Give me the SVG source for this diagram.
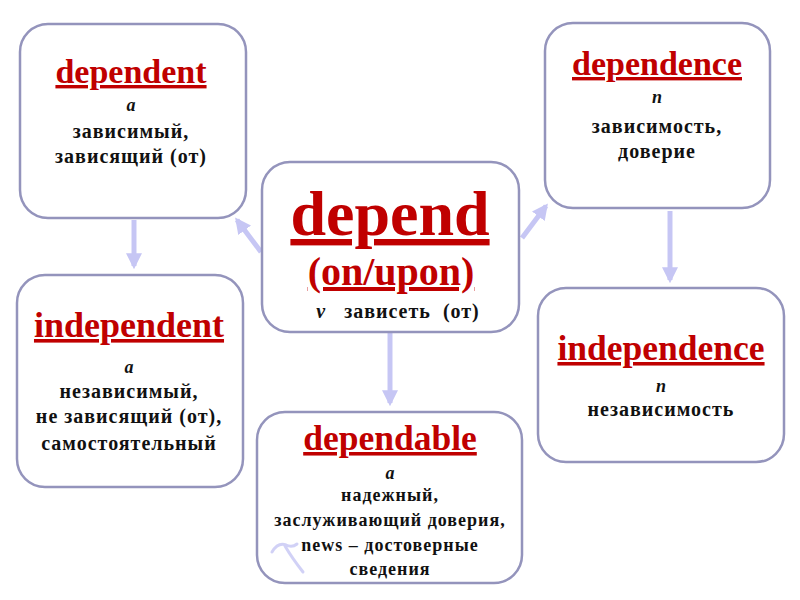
<svg xmlns="http://www.w3.org/2000/svg" width="800" height="600" viewBox="0 0 800 600">
  <defs>
    <style>
      .box { fill: #ffffff; stroke: #9494bc; stroke-width: 2.5; }
      .conn { stroke: #c6c6f4; stroke-width: 5; fill: none; }
      .head { fill: #c6c6f4; }
      text { font-family: "Liberation Serif", "Times New Roman", serif; font-weight: bold; text-anchor: middle; fill: #111111; }
      .title { fill: #c00000; font-size: 34px; text-decoration: underline; }
      .pos { font-style: italic; font-size: 18px; }
      .body { font-size: 20px; letter-spacing: 1px; }
      .small { font-size: 18px; letter-spacing: 1px; }
    </style>
    <marker id="arr" viewBox="0 0 10 10" refX="8" refY="5" markerWidth="3.2" markerHeight="3.2" orient="auto" markerUnits="strokeWidth">
      <path d="M0,0 L10,5 L0,10 Z" class="head"/>
    </marker>
  </defs>
  <rect width="800" height="600" fill="#ffffff"/>

  <g id="connectors">
    <line class="conn" x1="261" y1="252" x2="237" y2="220" marker-end="url(#arr)"/>
    <line class="conn" x1="522" y1="238" x2="546" y2="206" marker-end="url(#arr)"/>
    <line class="conn" x1="134" y1="220" x2="134" y2="266" marker-end="url(#arr)"/>
    <line class="conn" x1="670" y1="211" x2="670" y2="280" marker-end="url(#arr)"/>
    <line class="conn" x1="390" y1="333" x2="390" y2="403" marker-end="url(#arr)"/>
  </g>

  <g id="node-dependent">
    <rect class="box" x="20" y="24" width="226" height="194" rx="28" ry="28"/>
    <text class="title" x="131" y="83">dependent</text>
    <text class="pos" x="131" y="111">a</text>
    <text class="body" x="131" y="138">зависимый,</text>
    <text class="body" x="131" y="163">зависящий (от)</text>
  </g>

  <g id="node-dependence">
    <rect class="box" x="545" y="23" width="225" height="185" rx="28" ry="28"/>
    <text class="title" x="657" y="75">dependence</text>
    <text class="pos" x="657" y="103">n</text>
    <text class="body" x="657" y="133">зависимость,</text>
    <text class="body" x="657" y="158">доверие</text>
  </g>

  <g id="node-depend">
    <rect class="box" x="262" y="162" width="257" height="170" rx="28" ry="28"/>
    <text class="title" x="390" y="235" style="font-size:64px">depend</text>
    <text class="title" x="391" y="285" style="font-size:40px">(on/upon)</text>
    <text class="body" x="398" y="318" xml:space="preserve"><tspan font-style="italic">v</tspan>   зависеть  (от)</text>
  </g>

  <g id="node-independent">
    <rect class="box" x="17" y="275" width="226" height="212" rx="28" ry="28"/>
    <text class="title" x="129" y="337" style="font-size:36px">independent</text>
    <text class="pos" x="129" y="373">a</text>
    <text class="body" x="129" y="398">независимый,</text>
    <text class="body" x="129" y="423">не зависящий (от),</text>
    <text class="body" x="129" y="450">самостоятельный</text>
  </g>

  <g id="node-independence">
    <rect class="box" x="538" y="288" width="246" height="174" rx="28" ry="28"/>
    <text class="title" x="661" y="360" style="font-size:35.5px">independence</text>
    <text class="pos" x="661" y="392">n</text>
    <text class="body" x="661" y="416">независимость</text>
  </g>

  <g id="node-dependable">
    <rect class="box" x="257" y="412" width="265" height="171" rx="28" ry="28"/>
    <text class="title" x="390" y="450" style="font-size:35.5px">dependable</text>
    <text class="pos" x="390" y="479">a</text>
    <text class="small" x="390" y="501">надежный,</text>
    <text class="small" x="390" y="526">заслуживающий доверия,</text>
    <text class="small" x="390" y="551">news – достоверные</text>
    <text class="small" x="390" y="575">сведения</text>
  </g>

  <path d="M272,552 Q278,542 286,545 Q292,548 297,544 M285,546 Q292,558 303,572" stroke="#c6c6f4" stroke-width="3" fill="none" stroke-linecap="round" opacity="0.8"/>
</svg>
